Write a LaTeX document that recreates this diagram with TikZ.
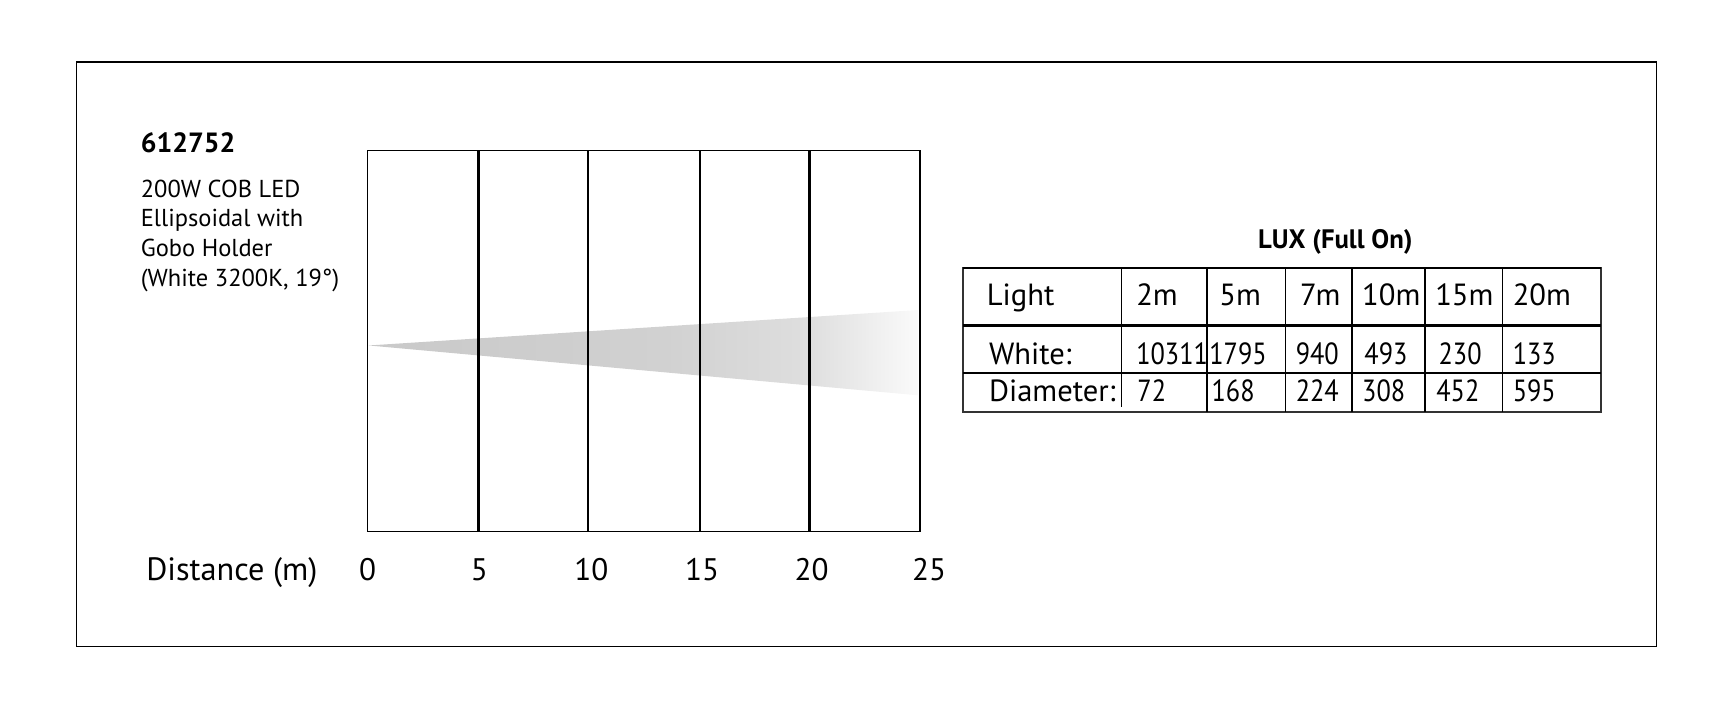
\documentclass[tikz,border=0pt]{standalone}
\usepackage{graphicx}
\usepackage{fontspec}
\setmainfont{PT Sans}
\newcommand\narrownum[1]{\scalebox{0.86}[1]{#1}}
\definecolor{beamA}{HTML}{C9C9C9}
\definecolor{beamB}{HTML}{D1D1D1}
\definecolor{beamC}{HTML}{DEDEDE}
\definecolor{beamD}{HTML}{FAFAFA}
\pgfdeclarehorizontalshading{beamfade}{100bp}{color(0bp)=(beamA); color(25bp)=(beamA); color(52bp)=(beamB); color(65bp)=(beamC); color(75bp)=(beamD); color(100bp)=(beamD)}
\begin{document}
\begin{tikzpicture}[x=0.995pt,y=-0.995pt,
    txt/.style={anchor=base west, inner sep=0pt, font=\fontsize{22}{22}\selectfont},
    cell/.style={anchor=base west, inner sep=0pt, font=\fontsize{27.5}{27.5}\selectfont},
    rowlab/.style={cell, font=\fontsize{27.5}{27.5}\selectfont},
    tick/.style={anchor=base, inner sep=0pt, font=\fontsize{28}{28}\selectfont}]
	\useasboundingbox (0,0) rectangle (1567.8,646.6);
	
	% Rahmen
	\draw[line width=1.4pt] (69,56) rectangle (1496,584);
	
	% Titel
	\node[txt, font=\bfseries\fontsize{25}{25}\selectfont] (code) at (127,138) {612752};
	\node[txt] (desc1) at (127,178) {200W COB LED};
	\node[txt] (desc2) at (127,205) {Ellipsoidal with};
	\node[txt] (desc3) at (127,232) {Gobo Holder};
	\node[txt] (desc4) at (127,259) {(White 3200K, 19°)};
	
	% Lichtkegel
	\coordinate (apex) at (333,312);
	\coordinate (topR) at (829,280);
	\coordinate (botR) at (829,357);
	\shade[shading=beamfade] (apex) -- (topR) -- (botR) -- cycle;
	
	% Diagramm
	\draw[line width=1.3pt] (332,136) rectangle (831,480);
	\foreach \xx in {432,531,632,731}
		\draw[line width=2.3pt] (\xx,136) -- (\xx,480);
	\draw[line width=2.3pt] (831,136) -- (831,480);
	
	% Achsenbeschriftungen
	\node[tick, anchor=base west, font=\fontsize{29}{29}\selectfont] (dist) at (132,524) {Distance (m)};
	\foreach \xx/\dd in {332/0,433/5,534/10,634/15,733/20,839/25}
		\node[tick] (d\dd) at (\xx,524) {\dd};
	
	% Tabelle
	\node[txt, anchor=base, font=\bfseries\fontsize{24}{24}\selectfont] (lux) at (1206,224) {LUX (Full On)};
	\draw[line width=2pt, black!80] (870,242) rectangle (1446,372);
	\draw[line width=2pt] (870,242) -- (1446,242);
	\draw[line width=2pt] (870,294) -- (1446,294);
	\draw[line width=1.2pt] (870,337) -- (1446,337);
	\foreach \xx in {1090,1161,1221,1287,1357}
		\draw[line width=1.2pt] (\xx,242) -- (\xx,372);
	\draw[line width=1.2pt] (1013,242) -- (1013,368);
	
	\node[rowlab] (hLight) at (891,276) {Light};
	\foreach \xx/\tt in {1026/2m,1101/5m,1174/7m,1230/10m,1296/15m,1366/20m}
		\node[cell] (h\tt) at (\xx,276) {\tt};
	
	\node[rowlab] (rWhite) at (893,329) {White:};
	\foreach \xx/\vv in {1026/10311,1092/1795,1170/940,1232/493,1299/230,1366/133}
		\node[cell] (w\vv) at (\xx,329) {\narrownum{\vv}};
	
	\node[rowlab] (rDiam) at (893,363) {Diameter:};
	\foreach \xx/\vv in {1027/72,1094/168,1170/224,1230/308,1297/452,1366/595}
		\node[cell] (dm\vv) at (\xx,363) {\narrownum{\vv}};
\end{tikzpicture}
\end{document}
